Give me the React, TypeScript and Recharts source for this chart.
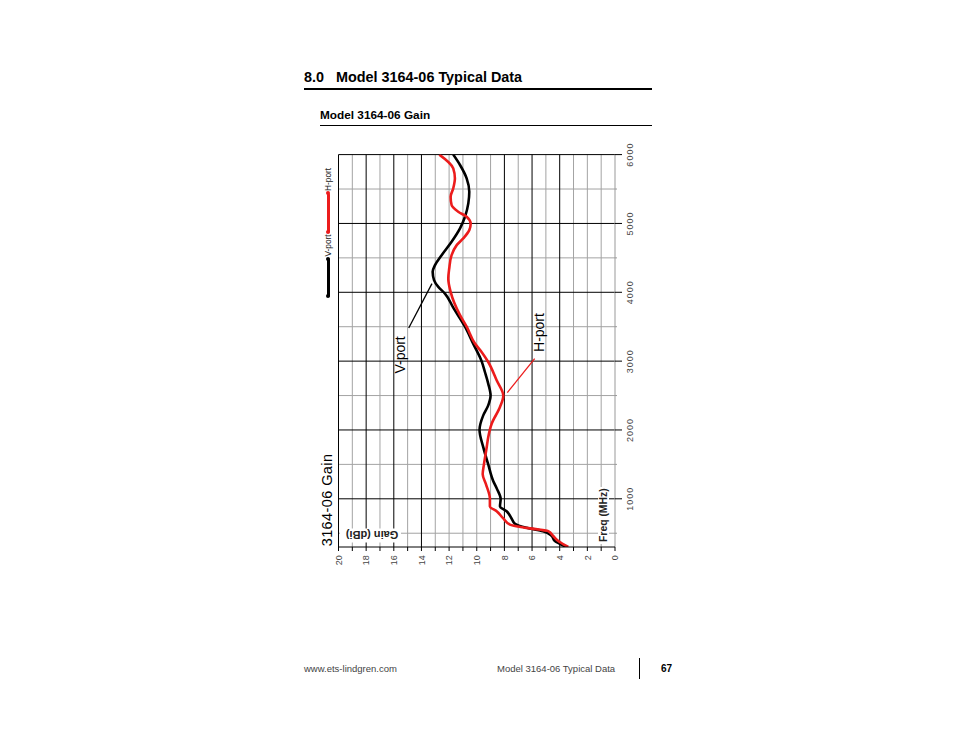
import React from 'react';
import { LineChart, Line, XAxis, YAxis, ReferenceLine, ReferenceDot, Legend, Label } from 'recharts';

// ---- data (frequency in MHz, gain in dBi) ----
const vPortFreq = [300, 386, 460, 530, 578, 636, 715, 820, 890, 1000, 1150, 1260, 1500, 1750, 2000, 2212, 2357, 2500, 2673, 2842, 3000, 3250, 3500, 3777, 3982, 4078, 4176, 4297, 4394, 4539, 4733, 4928, 5097, 5292, 5460, 5655, 5849, 6000];
const vPortGain = [3.5, 4.35, 4.58, 5.2, 6.4, 7.24, 7.48, 7.84, 8.32, 8.27, 8.55, 8.81, 9.17, 9.53, 9.8, 9.53, 9.17, 9.0, 9.17, 9.41, 9.65, 10.25, 10.85, 11.7, 12.3, 12.78, 13.09, 13.19, 13.02, 12.54, 11.82, 11.21, 10.85, 10.61, 10.54, 10.73, 11.21, 11.7];

const hPortFreq = [300, 386, 460, 530, 578, 626, 715, 820, 890, 1000, 1210, 1355, 1500, 1750, 1896, 2091, 2333, 2498, 2721, 2987, 3133, 3255, 3500, 3667, 4006, 4200, 4346, 4539, 4685, 4782, 4903, 4995, 5097, 5170, 5267, 5388, 5510, 5655, 5801, 6000];
const hPortGain = [3.38, 4.1, 4.47, 4.83, 6.4, 7.6, 8.08, 8.56, 9.05, 9.05, 9.33, 9.57, 9.48, 9.28, 9.17, 8.92, 8.32, 8.08, 8.56, 9.17, 9.65, 10.13, 10.73, 11.21, 11.89, 12.06, 11.99, 11.82, 11.45, 10.98, 10.54, 10.44, 10.73, 11.34, 11.82, 11.89, 11.7, 11.58, 11.7, 12.71];

const freqDomain = [300, 6000];
const freqTicks = [500, 1000, 1500, 2000, 2500, 3000, 3500, 4000, 4500, 5000, 5500, 6000];
const freqMajor = [1000, 2000, 3000, 4000, 5000, 6000];
const freqMinor = [500, 1500, 2500, 3500, 4500, 5500];
const gainDomain = [0, 20];
const gainTicks = [0, 1, 2, 3, 4, 5, 6, 7, 8, 9, 10, 11, 12, 13, 14, 15, 16, 17, 18, 19, 20];
const gainDark = [20, 18, 16, 14, 8, 6, 4];
const gainLight = [19, 17, 15, 13, 12, 11, 10, 9, 7, 5, 3, 2, 1];

const seriesNames = ['V-port', 'H-port'];
const seriesColors = ['#000000', '#ec1c1c'];

const annotationNames = ['V-port', 'H-port'];
const annotationTextFreq = [2819, 3133];
const annotationTextGain = [15.17, 5.11];
const annotationLineFrom = [[3481, 14.92], [2543, 7.79]];
const annotationLineTo = [[4126, 13.24], [3037, 5.81]];
const annotationColors = ['#000000', '#ec1c1c'];

const vData = vPortFreq.map((f, i) => ({ f, g: vPortGain[i] }));
const hData = hPortFreq.map((f, i) => ({ f, g: hPortGain[i] }));

const FONT = '"Liberation Sans", Arial, Helvetica, sans-serif';

const FreqTick = (props: any) => {
  const { x, y, payload } = props;
  const major = payload.value % 1000 === 0;
  return (
    <g>
      <line x1={x} x2={x} y1={y} y2={y + (major ? 7 : 2)} stroke={major ? '#000' : '#999'} strokeWidth={1} />
      {major && (
        <text x={x} y={y + 17.7} textAnchor="middle" fontSize={9} fill="#444" letterSpacing={1} fontFamily={FONT}>
          {payload.value}
        </text>
      )}
    </g>
  );
};

const GainTick = (props: any) => {
  const { x, y, payload } = props;
  const v = payload.value;
  return (
    <g>
      <line x1={x} x2={x - 4} y1={y} y2={y} stroke="#000" strokeWidth={1} />
      {v % 2 === 0 && (
        <text x={x - 8.3} y={y} dy="0.35em" textAnchor="end" fontSize={9} fill="#444" fontFamily={FONT}>
          {v}
        </text>
      )}
    </g>
  );
};

const FreqAxisLabel = (props: any) => {
  const vb = props.viewBox || { x: 34, y: 305 };
  return (
    <g>
      <rect x={vb.x + 3} y={vb.y - 17} width={57} height={11} fill="#fff" />
      <text x={vb.x + 5} y={vb.y - 7.7} fontSize={10.4} fontWeight="bold" fill="#222" fontFamily={FONT}>
        Freq (MHz)
      </text>
    </g>
  );
};

const GainAxisLabel = (props: any) => {
  const vb = props.viewBox || { x: 0, y: 28.5, width: 34 };
  const bx = vb.x + vb.width;
  return (
    <g>
      <rect x={bx + 4.5} y={vb.y + 1.5} width={14} height={61} fill="#fff" />
      <text
        transform={`translate(${bx + 15.7}, ${vb.y + 59.8}) rotate(-90)`}
        fontSize={11}
        fontWeight="bold"
        fill="#222"
        fontFamily={FONT}
      >
        Gain (dBi)
      </text>
    </g>
  );
};

const LegendContent = (props: any) => {
  const payload: any[] = props.payload || [];
  const items = seriesNames.map((n, i) => {
    const found = payload.find((p: any) => p.value === n);
    return { value: n, color: found && found.color ? found.color : seriesColors[i] };
  });
  const barWidths = [38.7, 40];
  return (
    <div style={{ display: 'flex', alignItems: 'center', height: 12, fontFamily: FONT, fontSize: 8.3, color: '#222' }}>
      {items.map((p: any, i: number) => (
        <React.Fragment key={p.value}>
          <div
            style={{
              position: 'relative',
              width: barWidths[i] || 40,
              height: 3,
              background: p.color,
              borderRadius: 1.5,
              marginLeft: i === 0 ? 0 : 1.7,
            }}
          >
            <div style={{ position: 'absolute', left: -1.5, top: -0.5, width: 4, height: 4, borderRadius: 2, background: p.color }} />
            <div style={{ position: 'absolute', right: -1.5, top: -0.5, width: 4, height: 4, borderRadius: 2, background: p.color }} />
          </div>
          <span style={{ marginLeft: 1.8, whiteSpace: 'nowrap', lineHeight: '12px' }}>{p.value}</span>
        </React.Fragment>
      ))}
    </div>
  );
};

const makeAnnotationLabel = (text: string) => (props: any) => {
  const vb = props.viewBox || { x: 0, y: 0 };
  return (
    <text x={vb.x} y={vb.y} fontSize={14} fill="#000" fontFamily={FONT}>
      {text}
    </text>
  );
};

export default function App() {
  const W = 440; // unrotated chart width (becomes screen height)
  const H = 340; // unrotated chart height (becomes screen width)
  return (
    <div style={{ position: 'absolute', left: 0, top: 0, width: 954, height: 738, background: '#fff', fontFamily: FONT, overflow: 'hidden' }}>
      <svg width={954} height={738} style={{ position: 'absolute', left: 0, top: 0 }}>
        <text x={304} y={82} fontSize={14.4} fontWeight="bold" fill="#000" fontFamily={FONT}>8.0</text>
        <text x={336} y={82} fontSize={14.4} fontWeight="bold" fill="#000" fontFamily={FONT}>Model 3164-06 Typical Data</text>
        <line x1={304} x2={652} y1={89} y2={89} stroke="#000" strokeWidth={2} />
        <text x={320} y={118.5} fontSize={11.8} fontWeight="bold" fill="#000" fontFamily={FONT}>Model 3164-06 Gain</text>
        <line x1={320} x2={652} y1={125.5} y2={125.5} stroke="#000" strokeWidth={1} />
        <text x={304} y={671.5} fontSize={9.5} fill="#444" fontFamily={FONT}>www.ets-lindgren.com</text>
        <text x={497} y={671.5} fontSize={9.5} fill="#444" fontFamily={FONT}>Model 3164-06 Typical Data</text>
        <line x1={639.5} x2={639.5} y1={658} y2={679} stroke="#000" strokeWidth={1} />
        <text x={661} y={672} fontSize={10} fontWeight="bold" fill="#000" fontFamily={FONT}>67</text>
      </svg>

      <div style={{ position: 'absolute', left: 310, top: 140.7, width: H, height: W }}>
        <div
          style={{
            position: 'absolute',
            left: 0,
            top: 0,
            width: W,
            height: H,
            transformOrigin: '0 0',
            transform: `translate(0px, ${W}px) rotate(-90deg)`,
          }}
        >
          <LineChart width={W} height={H} margin={{ top: 28.5, right: 13.6, bottom: 5, left: 0 }}>
            <XAxis
              type="number"
              dataKey="f"
              domain={freqDomain}
              ticks={freqTicks}
              interval={0}
              tick={<FreqTick />}
              tickLine={false}
              tickSize={0}
              tickMargin={0}
              height={30}
              axisLine={{ stroke: '#999', strokeWidth: 1 }}
              allowDataOverflow
            >
              <Label content={FreqAxisLabel} />
            </XAxis>
            <YAxis
              type="number"
              domain={gainDomain}
              ticks={gainTicks}
              interval={0}
              tick={<GainTick />}
              tickLine={false}
              tickSize={0}
              tickMargin={0}
              width={34}
              axisLine={{ stroke: '#000', strokeWidth: 1 }}
              allowDataOverflow
            >
              <Label content={GainAxisLabel} />
            </YAxis>

            {gainLight.map((g) => (
              <ReferenceLine key={'gl' + g} y={g} stroke="#a3a3a3" strokeWidth={1} />
            ))}
            {freqMinor.map((f) => (
              <ReferenceLine key={'fm' + f} x={f} stroke="#a3a3a3" strokeWidth={1} />
            ))}
            {gainDark.map((g) => (
              <ReferenceLine key={'gd' + g} y={g} stroke="#000" strokeWidth={1} />
            ))}
            {freqMajor.map((f) => (
              <ReferenceLine key={'fM' + f} x={f} stroke="#000" strokeWidth={1} />
            ))}

            {annotationNames.map((n, i) => (
              <ReferenceLine
                key={'al' + n}
                segment={[
                  { x: annotationLineFrom[i][0], y: annotationLineFrom[i][1] },
                  { x: annotationLineTo[i][0], y: annotationLineTo[i][1] },
                ]}
                stroke={annotationColors[i]}
                strokeWidth={1.3}
              />
            ))}
            {annotationNames.map((n, i) => (
              <ReferenceDot
                key={'at' + n}
                x={annotationTextFreq[i]}
                y={annotationTextGain[i]}
                r={0}
                fill="none"
                stroke="none"
                label={makeAnnotationLabel(n)}
              />
            ))}

            <Line
              data={vData}
              dataKey="g"
              name={seriesNames[0]}
              stroke={seriesColors[0]}
              strokeWidth={2.6}
              dot={false}
              type="monotone"
              isAnimationActive={false}
            />
            <Line
              data={hData}
              dataKey="g"
              name={seriesNames[1]}
              stroke={seriesColors[1]}
              strokeWidth={2.6}
              dot={false}
              type="monotone"
              isAnimationActive={false}
            />
            <Legend
              layout="horizontal"
              verticalAlign="middle"
              align="center"
              wrapperStyle={{ left: 284, top: 12.3, width: 150, height: 12, right: 'auto', bottom: 'auto' }}
              content={LegendContent}
            />
          </LineChart>
          <svg width={W} height={H} style={{ position: 'absolute', left: 0, top: 0, pointerEvents: 'none' }}>
            <text x={34.7} y={21.7} fontSize={14.5} fill="#000" letterSpacing={0.4} fontFamily={FONT}>
              3164-06 Gain
            </text>
          </svg>
        </div>
      </div>
    </div>
  );
}
